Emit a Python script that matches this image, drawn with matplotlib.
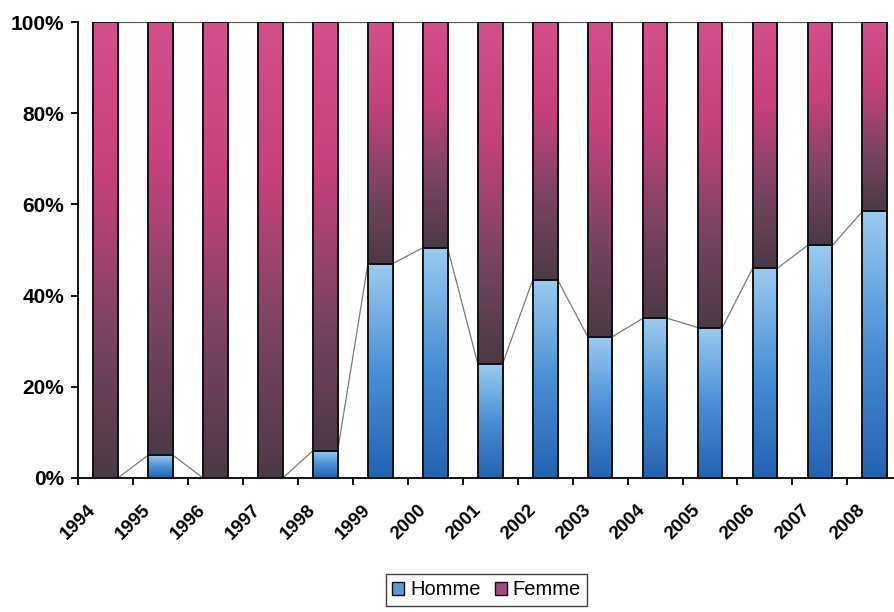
import numpy as np
import matplotlib
matplotlib.use("Agg")
import matplotlib.pyplot as plt
from matplotlib.colors import LinearSegmentedColormap
from matplotlib.patches import Patch
from matplotlib.transforms import ScaledTranslation

# share of each sex per year, in percent
years = ["1994", "1995", "1996", "1997", "1998", "1999", "2000", "2001",
         "2002", "2003", "2004", "2005", "2006", "2007", "2008"]
homme = [0, 5, 0, 0, 6, 47, 50.5, 25, 43.5, 31, 35, 33, 46, 51, 58.5]
femme = [100 - h for h in homme]

plt.rcParams["font.family"] = ["Liberation Sans", "DejaVu Sans"]

# vertical gradients, bottom -> top
cm_homme = LinearSegmentedColormap.from_list("homme", ["#2462b2", "#4a90d6", "#9ccbf0"])
cm_femme = LinearSegmentedColormap.from_list("femme", ["#4a3a46", "#7e4464", "#c8417c", "#d4508a"])

fig = plt.figure(figsize=(8.95, 6.12), dpi=100)
ax = fig.add_axes([0.0872, 0.219, 0.921, 0.745])

x = np.arange(len(years))
width = 0.45
grad = np.linspace(0, 1, 256).reshape(-1, 1)


def gradient_bars(xs, heights, bottoms, cmap):
    bars = ax.bar(xs, heights, width, bottom=bottoms, facecolor="none",
                  edgecolor="#111111", linewidth=1.4, zorder=3)
    for b in bars:
        h = b.get_height()
        if h <= 0:
            continue
        x0, y0 = b.get_x(), b.get_y()
        im = ax.imshow(grad, cmap=cmap, origin="lower", aspect="auto",
                       extent=(x0, x0 + b.get_width(), y0, y0 + h), zorder=2)
        im.set_clip_path(b)
    return bars


gradient_bars(x, homme, 0, cm_homme)
gradient_bars(x, femme, homme, cm_femme)

# series lines joining the segment tops between neighbouring bars
tops_h = np.array(homme)
tops_f = np.array(homme) + np.array(femme)
for i in range(len(years) - 1):
    ax.plot([x[i] + width / 2, x[i + 1] - width / 2], [tops_h[i], tops_h[i + 1]],
            color="#7a7a7a", lw=0.9, zorder=1)
    ax.plot([x[i] + width / 2, x[i + 1] - width / 2], [tops_f[i], tops_f[i + 1]],
            color="#555555", lw=0.9, zorder=1)

ax.set_xlim(-0.5, len(years) - 0.5)
ax.set_ylim(0, 100)
ax.set_yticks(range(0, 101, 20))
ax.set_yticklabels([f"{v}%" for v in range(0, 101, 20)], fontsize=15, fontweight="bold")

# ticks between categories, labels at the centres
ax.set_xticks(np.arange(-0.5, len(years), 1))
ax.set_xticklabels([])
ax.set_xticks(x, minor=True)
ax.set_xticklabels(years, minor=True, rotation=45, ha="right", va="top",
                   rotation_mode="anchor", fontsize=13.5, fontweight="bold")
ax.tick_params(axis="x", which="minor", length=0, pad=17)
ax.tick_params(axis="x", which="major", length=5, width=1.3, direction="out")
ax.tick_params(axis="y", length=5, width=1.3, direction="out", pad=5)
offset = ScaledTranslation(-13 / 72, 0, fig.dpi_scale_trans)
for lab in ax.get_xticklabels(minor=True):
    lab.set_transform(lab.get_transform() + offset)

for side in ["top", "right"]:
    ax.spines[side].set_visible(False)
for side in ["left", "bottom"]:
    ax.spines[side].set_linewidth(1.4)
    ax.spines[side].set_color("#111111")

handles = [Patch(facecolor="#5b9ad8", edgecolor="#111111", label="Homme"),
           Patch(facecolor="#a04a82", edgecolor="#111111", label="Femme")]
fig.legend(handles=handles, loc="center", bbox_to_anchor=(0.5436, 0.036), ncol=2,
           fontsize=14.5, frameon=True, fancybox=False, edgecolor="#111111",
           handlelength=0.6, handleheight=0.6, handletextpad=0.3, columnspacing=0.7,
           borderpad=0.3)

fig.savefig("out.png", dpi=100)
